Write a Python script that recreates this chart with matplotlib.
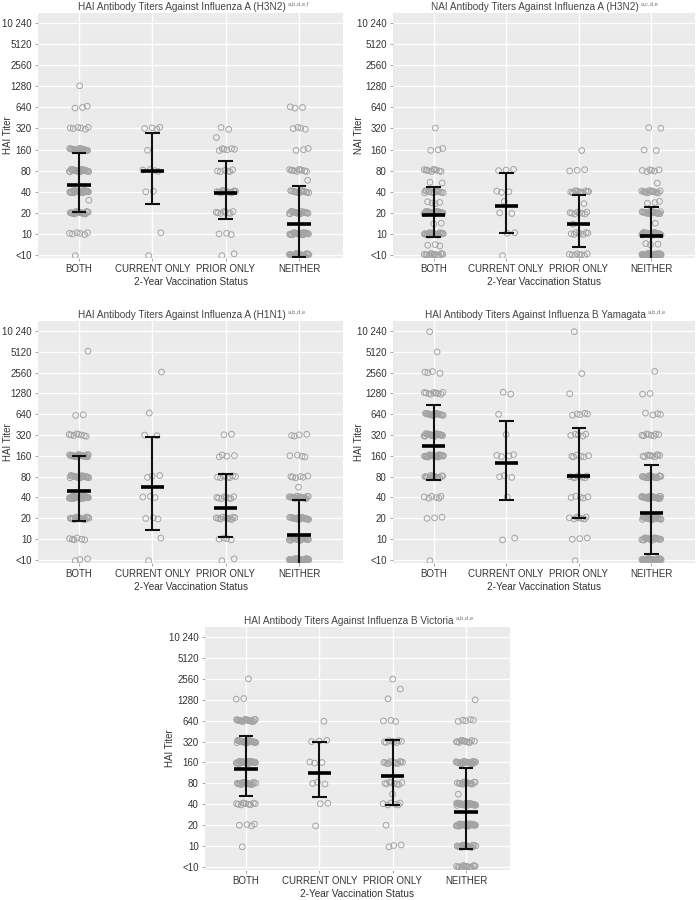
import numpy as np
import matplotlib
matplotlib.use("Agg")
import matplotlib.pyplot as plt

plt.rcParams['font.family'] = ['Liberation Sans', 'DejaVu Sans']

# ---------------- data ----------------
groups = ["BOTH", "CURRENT ONLY", "PRIOR ONLY", "NEITHER"]
tick_titers = [5, 10, 20, 40, 80, 160, 320, 640, 1280, 2560, 5120, 10240]
tick_labels = ["<10", "10", "20", "40", "80", "160", "320", "640", "1280", "2560", "5120", "10 240"]

# Panel 1: HAI A(H3N2)  (titer: count)
h3_both = {5: 1, 10: 6, 20: 20, 30: 1, 40: 30, 80: 25, 160: 20, 320: 6, 640: 3, 1280: 1}
h3_curr = {5: 1, 10: 1, 40: 2, 80: 4, 160: 1, 320: 4}
h3_prior = {5: 2, 10: 3, 20: 8, 40: 15, 80: 6, 160: 6, 240: 1, 320: 2}
h3_neither = {5: 30, 10: 25, 20: 20, 40: 15, 60: 1, 80: 10, 160: 3, 320: 4, 640: 3}
h3_mean = [50, 78, 38, 13.6]
h3_lo = [20.7, 27, 16.2, 4.7]
h3_hi = [141, 274, 108, 47.6]

# Panel 2: NAI A(H3N2)
n_both = {5: 15, 7: 3, 10: 25, 14: 2, 20: 25, 28: 4, 40: 15, 55: 2, 80: 10, 160: 3, 320: 1}
n_curr = {5: 1, 10: 2, 20: 2, 28: 1, 40: 3, 80: 3}
n_prior = {5: 8, 10: 8, 14: 1, 20: 8, 28: 1, 40: 12, 80: 3, 160: 1}
n_neither = {5: 50, 7: 3, 10: 35, 14: 1, 20: 20, 28: 3, 40: 15, 55: 1, 80: 6, 160: 2, 320: 2}
n_mean = [18.5, 25, 14, 9.2]
n_lo = [8.9, 10.2, 6.4, 4.4]
n_hi = [46, 74, 36, 24]

# Panel 3: HAI A(H1N1)
h1_both = {5: 3, 10: 6, 20: 20, 40: 35, 80: 25, 160: 25, 320: 8, 640: 2, 5120: 1}
h1_curr = {5: 1, 10: 1, 20: 3, 40: 3, 80: 3, 320: 2, 640: 1, 2560: 1}
h1_prior = {5: 2, 10: 4, 20: 12, 40: 8, 80: 8, 160: 4, 320: 2}
h1_neither = {5: 45, 10: 30, 20: 25, 40: 20, 55: 1, 80: 6, 160: 4, 320: 4}
h1_mean = [49, 57, 28, 11.5]
h1_lo = [18.4, 13.5, 10.8, 4.4]
h1_hi = [158, 300, 86, 37]

# Panel 4: HAI B Yamagata
y_both = {5: 1, 20: 3, 40: 6, 80: 15, 160: 25, 320: 25, 640: 20, 1280: 10, 2560: 4, 5120: 1, 10240: 1}
y_curr = {10: 2, 40: 1, 80: 3, 160: 4, 320: 1, 640: 1, 1280: 2}
y_prior = {5: 1, 10: 3, 20: 7, 40: 5, 80: 8, 160: 6, 320: 5, 640: 5, 1280: 1, 2560: 1, 9700: 1}
y_neither = {5: 45, 10: 20, 20: 25, 40: 30, 80: 20, 160: 10, 320: 8, 640: 4, 1280: 2, 2560: 1}
y_mean = [225, 125, 82, 24]
y_lo = [72, 36.5, 20.3, 6]
y_hi = [870, 515, 408, 116]

# Panel 5: HAI B Victoria
v_both = {10: 1, 20: 4, 40: 10, 80: 20, 160: 30, 320: 30, 640: 20, 1280: 2, 2560: 1}
v_curr = {20: 1, 40: 2, 80: 3, 160: 3, 320: 3, 640: 1}
v_prior = {10: 3, 20: 1, 40: 6, 55: 1, 80: 8, 160: 12, 320: 8, 640: 3, 1280: 1, 1800: 1, 2560: 1}
v_neither = {5: 15, 10: 20, 20: 30, 40: 35, 55: 1, 80: 15, 160: 25, 320: 12, 640: 5, 1280: 1}
v_mean = [129, 113, 103, 31]
v_lo = [52, 50, 39, 8.9]
v_hi = [389, 311, 336, 134]

panels = [
    ("HAI Antibody Titers Against Influenza A (H3N2)", "a,b,d,e,f", "HAI Titer",
     [h3_both, h3_curr, h3_prior, h3_neither], h3_mean, h3_lo, h3_hi),
    ("NAI Antibody Titers Against Influenza A (H3N2)", "a,c,d,e", "NAI Titer",
     [n_both, n_curr, n_prior, n_neither], n_mean, n_lo, n_hi),
    ("HAI Antibody Titers Against Influenza A (H1N1)", "a,b,d,e", "HAI Titer",
     [h1_both, h1_curr, h1_prior, h1_neither], h1_mean, h1_lo, h1_hi),
    ("HAI Antibody Titers Against Influenza B Yamagata", "a,b,d,e", "HAI Titer",
     [y_both, y_curr, y_prior, y_neither], y_mean, y_lo, y_hi),
    ("HAI Antibody Titers Against Influenza B Victoria", "a,b,d,e", "HAI Titer",
     [v_both, v_curr, v_prior, v_neither], v_mean, v_lo, v_hi),
]

# layout in pixels: left, top, right, bottom ; y-label centre x
W, H = 700, 900
rects_px = [(38, 13, 343, 258), (393, 13, 695, 258),
            (38, 321, 343, 563), (393, 321, 695, 563),
            (205, 627, 510, 870)]
ylab_x = [8, 359, 8, 359, 170]

fig = plt.figure(figsize=(7, 9), dpi=100)


def lv(t):
    return np.log2(np.asarray(t, dtype=float) / 5.0)


for (title, sup, ylab, dists, mean, lo, hi), (l, t, r, b), yx in zip(panels, rects_px, ylab_x):
    ax = fig.add_axes([l / W, 1 - b / H, (r - l) / W, (b - t) / H])
    ax.set_facecolor('#ebebeb')
    for s in ax.spines.values():
        s.set_visible(False)
    ax.set_axisbelow(True)
    ax.grid(True, color='white', lw=1.0)

    for gi, d in enumerate(dists):
        xs, ys = [], []
        k = 0
        for titer, cnt in d.items():
            for _ in range(cnt):
                dx = ((k * 0.6180339887 + 0.31) % 1 - 0.5) * 0.27
                dy = ((k * 0.7548776662 + 0.17) % 1 - 0.5) * 0.12
                xs.append(gi + dx)
                ys.append(lv(titer) + dy)
                k += 1
        ax.scatter(xs, ys, s=17, facecolors='none', edgecolors='#a3a3a3',
                   linewidths=0.7, zorder=2)

    xpos = np.arange(len(groups))
    ax.vlines(xpos, lv(lo), lv(hi), color='#111111', lw=1.5, zorder=3)
    ax.hlines(lv(lo), xpos - 0.1, xpos + 0.1, color='#111111', lw=1.5, zorder=3)
    ax.hlines(lv(hi), xpos - 0.1, xpos + 0.1, color='#111111', lw=1.5, zorder=3)
    ax.hlines(lv(mean), xpos - 0.16, xpos + 0.16, color='black', lw=2.6, zorder=4)

    ax.set_xlim(-0.56, 3.6)
    ax.set_ylim(-0.15, 11.48)
    ax.set_xticks(xpos)
    ax.set_xticklabels(groups)
    ax.set_yticks(lv(tick_titers))
    ax.set_yticklabels(tick_labels)
    ax.tick_params(axis='both', labelsize=7, colors='#333333', length=2.5,
                   width=0.6, pad=2)
    ax.tick_params(axis='both', color='#999999')
    ax.set_xlabel("2-Year Vaccination Status", fontsize=7.2, color='#333333', labelpad=2)
    ax.set_ylabel(ylab, fontsize=7, color='#333333', va='center')
    ax.yaxis.set_label_coords(yx / W, 1 - (t + b) / 2 / H, transform=fig.transFigure)

    # title with superscript
    cx = (l + r) / 2 - 9
    ttl = fig.text(cx / W, 1 - (t - 3.5) / H, title, fontsize=7.2, color='#444444',
                   ha='center', va='baseline')
    ax.annotate(sup, xy=(1, 0.55), xycoords=ttl, xytext=(1.5, 0),
                textcoords='offset points', fontsize=4.3, color='#777777',
                ha='left', va='bottom')

fig.savefig("out.png", dpi=100)
